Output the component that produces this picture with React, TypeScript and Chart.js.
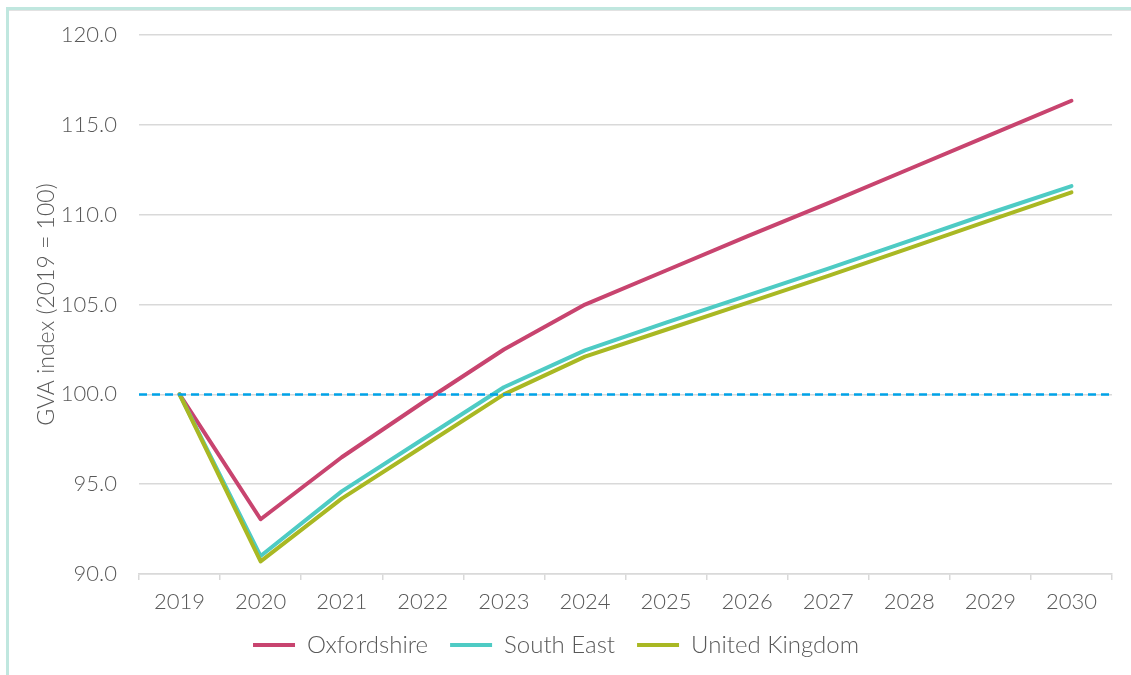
import React, { useEffect, useRef } from "react";
import { Chart, registerables } from "chart.js";

Chart.register(...registerables);

const years = ["2019", "2020", "2021", "2022", "2023", "2024", "2025", "2026", "2027", "2028", "2029", "2030"];
const oxfordshire = [100, 93.05, 96.5, 99.55, 102.5, 105.0, 106.9, 108.8, 110.65, 112.55, 114.45, 116.35];
const southEast = [100, 91.0, 94.6, 97.5, 100.4, 102.45, 104.0, 105.5, 107.0, 108.55, 110.1, 111.6];
const unitedKingdom = [100, 90.7, 94.2, 97.1, 100.0, 102.1, 103.6, 105.1, 106.6, 108.15, 109.7, 111.25];
const baselineValue = 100;
const yTicks = [90, 95, 100, 105, 110, 115, 120];

const FONT = "Lato, 'Open Sans', sans-serif";
const TEXT = "#595959";
const GRID = "#d9d9d9";

// Dashed reference line across the full plot width at the baseline index
const baselinePlugin = {
  id: "baseline",
  afterDatasetsDraw(chart: any) {
    const { ctx, chartArea, scales } = chart;
    const y = scales.y.getPixelForValue(baselineValue);
    ctx.save();
    ctx.strokeStyle = "#00a3e8";
    ctx.lineWidth = 2.5;
    ctx.setLineDash([8, 5]);
    ctx.beginPath();
    ctx.moveTo(chartArea.left, y);
    ctx.lineTo(chartArea.right, y);
    ctx.stroke();
    ctx.restore();
  },
};

export default function App() {
  const canvasRef = useRef<HTMLCanvasElement>(null);

  useEffect(() => {
    const canvas = canvasRef.current;
    if (!canvas) return;
    const series = [
      { label: "Oxfordshire", data: oxfordshire, color: "#c8446f", order: 2 },
      { label: "South East", data: southEast, color: "#4ecbc4", order: 1 },
      { label: "United Kingdom", data: unitedKingdom, color: "#a9b823", order: 0 },
    ];
    const chart = new Chart(canvas, {
      type: "line",
      data: {
        labels: years,
        datasets: series.map((s) => ({
          label: s.label,
          data: s.data,
          borderColor: s.color,
          backgroundColor: s.color,
          borderWidth: 4,
          pointRadius: 0,
          pointHoverRadius: 0,
          tension: 0,
          order: s.order,
          borderCapStyle: "round" as const,
          borderJoinStyle: "round" as const,
        })),
      },
      options: {
        animation: false,
        responsive: true,
        maintainAspectRatio: false,
        layout: { padding: { left: 0, right: 19, top: 33, bottom: 8 } },
        plugins: {
          tooltip: { enabled: false },
          legend: {
            position: "bottom",
            labels: {
              boxWidth: 42,
              boxHeight: 4,
              useBorderRadius: true,
              borderRadius: 2,
              padding: 22,
              color: TEXT,
              font: { family: FONT, size: 24, weight: "300" as any },
              generateLabels: (c: any) =>
                c.data.datasets.map((d: any, i: number) => ({
                  text: d.label,
                  fillStyle: d.borderColor,
                  strokeStyle: d.borderColor,
                  lineWidth: 0,
                  hidden: false,
                  datasetIndex: i,
                  fontColor: TEXT,
                })),
            },
          },
        },
        scales: {
          x: {
            offset: true,
            grid: {
              offset: true,
              drawOnChartArea: false,
              tickLength: 6,
              color: GRID,
              lineWidth: 1.5,
            },
            border: { color: GRID, width: 1.5 },
            ticks: {
              color: TEXT,
              padding: 9,
              maxRotation: 0,
              font: { family: FONT, size: 22, weight: "300" as any },
            },
            afterFit: (scale: any) => {
              scale.height = 37;
            },
          },
          y: {
            min: 90,
            max: 120,
            afterBuildTicks: (scale: any) => {
              scale.ticks = yTicks.map((v) => ({ value: v }));
            },
            grid: { color: GRID, lineWidth: 1.5, drawTicks: false },
            border: { display: false },
            ticks: {
              color: TEXT,
              padding: 22,
              font: { family: FONT, size: 22, weight: "300" as any },
              callback: (v: any) => Number(v).toFixed(1),
            },
            title: {
              display: true,
              text: "GVA index (2019 = 100)",
              color: TEXT,
              padding: { top: 33, bottom: 0 },
              font: { family: FONT, size: 23, weight: "300" as any },
            },
            afterFit: (scale: any) => {
              scale.width = 139;
            },
          },
        },
      },
      plugins: [baselinePlugin],
    });
    return () => chart.destroy();
  }, []);

  return (
    <div style={{ position: "fixed", left: 0, top: 0, width: 1131, height: 675, background: "#ffffff" }}>
      <div
        style={{
          position: "absolute",
          left: 6,
          top: 7,
          width: 1200,
          height: 800,
          borderTop: "3px solid #c0e7df",
          borderLeft: "3px solid #c0e7df",
          boxShadow: "inset 0 1px 0 #e2e2e2",
        }}
      />
      <div style={{ position: "absolute", left: 0, top: 0, width: 1131, height: 675 }}>
        <canvas ref={canvasRef} />
      </div>
    </div>
  );
}
